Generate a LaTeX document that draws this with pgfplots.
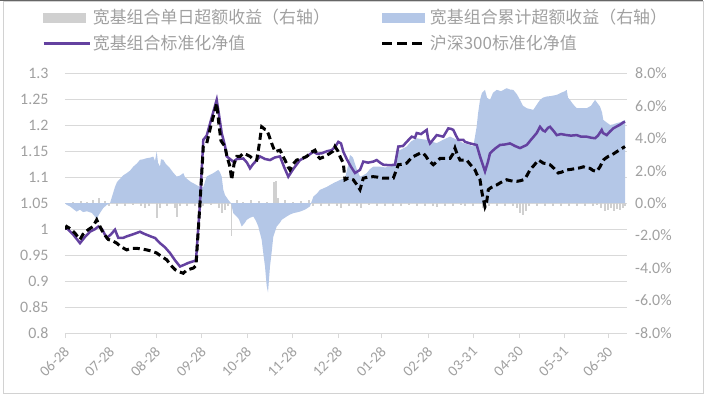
\documentclass[border=0pt]{standalone}
\usepackage{fontspec}
\setmainfont{Carlito}
\newfontfamily\cjk{Noto Sans CJK SC}
\usepackage{pgfplots}
\pgfplotsset{compat=1.18}
\definecolor{textgray}{RGB}{160,160,160}
\definecolor{gridgray}{RGB}{217,217,217}
\definecolor{bargray}{RGB}{208,208,208}
\definecolor{areablue}{RGB}{180,199,231}
\definecolor{navpurple}{RGB}{100,65,160}
\pgfplotsset{
  base/.style={scale only axis, width=561.7bp, height=259.7bp, xmin=0, xmax=561.7,
    tick label style={font=\fontsize{16}{18}\selectfont, text=textgray}},
}
\begin{document}
\begin{tikzpicture}
% Axis A: grid, left labels, x ticks
\begin{axis}[base, name=A,
  ymin=0.8, ymax=1.3,
  ytick={0.8,0.85,0.9,0.95,1,1.05,1.1,1.15,1.2,1.25,1.3},
  yticklabels={0.8,0.85,0.9,0.95,1,1.05,1.1,1.15,1.2,1.25,1.3},
  ymajorgrids, grid style={gridgray, line width=0.8bp},
  axis line style={draw=none},
  ytick style={draw=none}, ytick pos=left,
  xtick={0,45,91,136.7,182,227.7,273,316.7,363.3,408.3,454.3,499.3,543.3},
  xticklabels={06-28,07-28,08-28,09-28,10-28,11-28,12-28,01-28,02-28,03-31,04-30,05-31,06-30},
  xtick pos=left, xtick style={gridgray, line width=0.8bp},
  tick align=outside, major tick length=5bp,
  xticklabel style={font=\fontsize{15}{17}\selectfont, inner sep=1bp, xshift=-2bp, yshift=-6bp, rotate=45, anchor=north east},
  yticklabel style={xshift=-8bp},
]
\end{axis}
% Axis B: right axis, daily and cumulative excess
\begin{axis}[base,
  ymin=-8, ymax=8,
  ytick={-8,-6,-4,-2,0,2,4,6,8},
  yticklabels={-8.0\%,-6.0\%,-4.0\%,-2.0\%,0.0\%,2.0\%,4.0\%,6.0\%,8.0\%},
  ytick pos=right, ytick style={draw=none},
  xtick=\empty, axis line style={draw=none},
  yticklabel style={xshift=5bp},
]
\addplot[ycomb, bargray, line width=1.5bp, mark=none] coordinates {
(2,-0.05)(5,-0.15)(8,0.1)(10,-0.2)(13,-0.3)(16,0.15)(19,-0.2)(22,0.1)(25,-0.25)(28,0.2)(31,-0.4)(34,0.3)(37,-0.1)(40,0.15)(44,-0.2)(48,0.2)(52,-0.15)(56,0.1)(60,-0.2)(64,0.15)(68,-0.1)(72,0.2)(76,-0.15)(80,-0.3)(84,-0.2)(88,0.3)(92,-0.9)(95,-0.3)(98,0.2)(102,-0.2)(106,0.15)(110,-0.3)(112,-0.85)(115,-0.2)(118,0.1)(122,-0.2)(126,0.2)(130,-0.15)(134,0.3)(138,-0.2)(142,0.2)(146,-0.1)(150,0.15)(154,-0.3)(157,-0.6)(160,-0.45)(163,-0.2)(166.7,-2.0)(169,-0.3)(172,0.2)(175,-0.2)(178,0.1)(182,-0.3)(186,0.2)(190,-0.1)(194,0.15)(198,-0.2)(202,0.1)(206,-0.15)(209,1.3)(211,1.35)(213,0.3)(216,-0.1)(220,0.2)(224,-0.15)(228,0.1)(232,-0.2)(236,0.15)(240,-0.1)(244,0.2)(248,-0.15)(252,0.1)(256,-0.2)(260,0.1)(264,-0.15)(268,0.1)(272,-0.2)(276,-0.3)(280,0.2)(284,-0.15)(288,0.1)(292,-0.2)(296,-0.3)(300,0.1)(304,-0.1)(308,0.15)(312,-0.2)(316,0.1)(320,-0.15)(324,0.1)(328,-0.2)(332,0.2)(336,-0.15)(340,0.1)(344,-0.1)(348,0.15)(352,-0.2)(356,0.1)(360,-0.15)(364,0.1)(368,-0.2)(372,-0.25)(376,0.1)(380,-0.15)(384,0.1)(388,-0.2)(392,0.1)(396,-0.1)(400,-0.2)(404,0.1)(408,-0.15)(412,0.5)(415,0.4)(418,-0.3)(421,0.2)(424,-0.15)(428,0.1)(432,-0.2)(436,0.1)(440,-0.15)(444,0.1)(448,-0.2)(452,-0.3)(455,-0.6)(458,-0.7)(461,-0.5)(464,-0.2)(468,0.1)(472,-0.15)(476,0.1)(480,-0.2)(484,0.1)(488,-0.15)(492,0.1)(496,-0.2)(500,0.1)(504,-0.15)(508,0.1)(512,-0.2)(516,0.1)(520,-0.15)(524,0.1)(528,-0.2)(532,-0.1)(536,-0.3)(540,-0.5)(543,-0.4)(546,-0.3)(549,-0.5)(552,-0.35)(555,-0.4)(558,-0.3)(560,-0.2)
};
\addplot[draw=none, fill=areablue] coordinates {
(0,0)(1.7,-0.1)(5,-0.2)(8,-0.35)(11.7,-0.52)(15,-0.4)(18,-0.55)(22,-0.5)(26.7,-0.6)(29,-0.75)(31.7,-1.0)(34,-0.7)(38.3,-0.3)(42,-0.1)(45,0.0)(47,0.4)(50,1.0)(52,1.3)(55,1.5)(58,1.7)(61.7,1.85)(65,2.0)(68.3,2.25)(72,2.45)(75,2.67)(78,2.7)(81.7,2.77)(85,2.8)(88.3,2.87)(90,2.6)(91.7,3.18)(93,2.5)(95,2.25)(96,2.7)(98.3,2.67)(101,2.4)(105,2.15)(108,1.9)(111.7,1.64)(115,1.7)(118.3,1.85)(120,1.6)(123.3,1.43)(126,1.3)(128.3,1.23)(132,1.1)(135,1.0)(138.3,1.0)(141.7,1.64)(145,1.75)(148.3,1.85)(153.3,2.05)(155,1.9)(156.7,1.64)(158.3,0.82)(160,0.5)(163.3,0.2)(166,0.0)(168.3,-0.62)(171.7,-0.82)(174,-1.0)(176.7,-1.44)(180,-1.2)(181.7,-1.03)(185,-0.9)(188.3,-0.82)(191,-1.1)(193.3,-1.44)(196.7,-2.27)(198.5,-3.2)(200,-3.9)(201.7,-5.1)(203,-5.5)(205,-3.9)(206.7,-3.0)(208.3,-2.06)(211.7,-1.44)(215,-1.2)(216.7,-1.03)(221.7,-0.82)(225,-0.7)(228.3,-0.62)(235,-0.52)(240,-0.4)(245,-0.2)(248.3,0.4)(252,0.6)(255,0.82)(261.7,1.0)(268.3,1.23)(275,1.43)(280,1.54)(283,2.3)(285,2.98)(288,2.8)(291.7,2.1)(295,1.64)(298,1.7)(301.7,1.85)(305,2.1)(308.3,2.25)(315,2.25)(320,2.2)(325,2.25)(328.3,2.3)(331.7,3.18)(336,3.3)(341.7,3.49)(346,3.8)(351.7,4.0)(356,3.95)(361.7,3.9)(366,3.8)(371.7,3.7)(378,3.9)(385,4.1)(392,3.9)(398.3,3.7)(404,3.6)(408.3,3.49)(411.7,4.72)(413,5.5)(415,6.36)(417,6.8)(420,6.98)(422,6.5)(425,6.36)(428,6.8)(431.7,6.98)(436,6.9)(441.7,7.08)(445,7.0)(448.3,6.98)(452,6.7)(455,6.36)(458,6.0)(461.7,5.85)(465,5.8)(468.3,5.75)(471,6.0)(475,6.36)(478,6.5)(481.7,6.57)(486,6.6)(491.7,6.67)(496,6.8)(500,6.9)(501.7,6.98)(503,6.5)(505,6.36)(508,6.1)(511.7,5.85)(516,5.85)(521.7,5.85)(526,6.0)(530,6.36)(532,6.2)(535,5.95)(537,5.6)(538.3,5.13)(541,5.0)(545,4.82)(548,4.85)(551.7,4.93)(556,5.0)(560,5.13)(560,0)
} \closedcycle;
\end{axis}
% Axis C: NAV lines and legend
\begin{axis}[base, hide axis,
  ymin=0.8, ymax=1.3,
  legend columns=2,
  legend cell align=left,
  legend style={draw=none, fill=none, at={(axis description cs:-0.046,1.262)}, anchor=north west,
    font=\cjk\fontsize{17}{20}\selectfont, text=textgray,
    nodes={inner sep=2bp},
    /tikz/every even column/.append style={column sep=49bp},
    row sep=6bp},
]
\addlegendimage{legend image code/.code={\fill[bargray] (0bp,-4.5bp) rectangle (42bp,4.5bp);}}
\addlegendentry{宽基组合单日超额收益（右轴）}
\addlegendimage{legend image code/.code={\fill[areablue] (0bp,-4.5bp) rectangle (42bp,4.5bp);}}
\addlegendentry{宽基组合累计超额收益（右轴）}
\addplot[navpurple, line width=2.5bp, mark=none,
  legend image code/.code={\draw[navpurple, line width=2.5bp] (0bp,0bp) -- (46bp,0bp);}] coordinates {
(0,1.0)(1.7,1.002)(8,0.99)(15,0.973)(20,0.985)(25,0.995)(30,1.0)(33.3,1.005)(37,1.0)(41.7,0.983)(46,0.99)(50,0.999)(53.3,0.983)(58,0.983)(61.7,0.986)(68,0.99)(75,0.995)(78,0.992)(81.7,0.989)(87,0.985)(90,0.983)(95,0.973)(100,0.965)(105,0.954)(110,0.94)(115,0.928)(120,0.932)(123.3,0.935)(128.3,0.938)(131,0.94)(135,1.05)(138.3,1.172)(141.7,1.18)(146,1.21)(151.7,1.249)(154,1.22)(156.7,1.185)(160,1.16)(161.7,1.14)(165,1.135)(168.3,1.13)(172,1.135)(178.3,1.136)(182,1.128)(185,1.117)(188,1.125)(195,1.14)(200,1.135)(205,1.133)(210,1.138)(215,1.14)(219,1.12)(223.3,1.101)(228,1.115)(235,1.133)(242,1.14)(248.3,1.149)(252,1.145)(256.7,1.146)(262,1.15)(266.7,1.152)(270,1.158)(273.3,1.168)(276,1.165)(278.3,1.149)(281.7,1.135)(286,1.12)(290,1.108)(295,1.114)(298.3,1.13)(303,1.128)(308.3,1.13)(311.7,1.133)(315,1.128)(318.3,1.124)(325,1.123)(330,1.124)(333.3,1.159)(338,1.16)(341.7,1.168)(346.7,1.178)(350,1.176)(351.7,1.185)(356,1.183)(361.7,1.191)(363,1.175)(365,1.165)(368,1.172)(371.7,1.181)(374,1.18)(378.3,1.178)(383.3,1.194)(386,1.193)(388.3,1.191)(391,1.18)(393.3,1.172)(398.3,1.172)(400,1.168)(405,1.165)(411.7,1.162)(415,1.14)(420,1.111)(423,1.13)(425,1.146)(430,1.155)(435,1.162)(440,1.163)(445,1.165)(450,1.16)(455,1.156)(461.7,1.162)(466,1.172)(471.7,1.185)(475,1.197)(478,1.19)(480,1.188)(483,1.195)(485,1.197)(489,1.188)(491.7,1.181)(496,1.183)(501.7,1.181)(506,1.18)(511.7,1.181)(516,1.178)(521.7,1.178)(526,1.176)(530,1.175)(533,1.18)(536.7,1.191)(538,1.185)(541.7,1.181)(545,1.188)(548.3,1.194)(552,1.198)(555,1.201)(558,1.205)(560,1.207)
};
\addlegendentry{宽基组合标准化净值}
\addplot[black, line width=3bp, dash pattern=on 7bp off 4bp, mark=none,
  legend image code/.code={\draw[black, line width=3bp, dash pattern=on 10bp off 5bp] (0bp,0bp) -- (44bp,0bp);}] coordinates {
(0,1.0)(1.7,1.005)(6,1.0)(10,0.992)(15,0.98)(18,0.99)(23.3,0.999)(28,1.005)(31.7,1.018)(35,1.005)(38.3,0.992)(43.3,0.98)(47,0.978)(51.7,0.973)(56,0.966)(61.7,0.96)(66,0.963)(71.7,0.963)(76,0.962)(81.7,0.96)(86,0.958)(91.7,0.954)(96,0.948)(101.7,0.941)(106,0.93)(110,0.922)(114,0.918)(118.3,0.915)(121,0.92)(123.3,0.922)(128.3,0.925)(131,0.93)(135,1.05)(138.3,1.159)(141.7,1.165)(146,1.2)(151.7,1.242)(154,1.2)(156,1.17)(160,1.159)(162,1.14)(165,1.12)(166.7,1.095)(169,1.125)(171.7,1.14)(175,1.14)(178.3,1.146)(182,1.143)(185,1.14)(188,1.135)(191.7,1.133)(194,1.16)(196.7,1.197)(200,1.192)(201.7,1.191)(204,1.18)(206.7,1.165)(210,1.149)(215,1.152)(218,1.14)(220,1.133)(223,1.12)(225,1.114)(228,1.125)(231.7,1.133)(236,1.135)(241.7,1.14)(246,1.148)(250,1.152)(253,1.14)(255,1.136)(260,1.14)(265,1.146)(268,1.15)(270,1.159)(273,1.15)(275,1.14)(278.3,1.127)(280,1.095)(283,1.098)(288.3,1.095)(292,1.085)(295,1.076)(298.3,1.098)(303,1.1)(308.3,1.101)(313,1.1)(318.3,1.098)(323,1.098)(328.3,1.098)(333.3,1.124)(338,1.125)(341.7,1.127)(346.7,1.138)(351.7,1.143)(355,1.146)(358.3,1.146)(361,1.14)(363.3,1.133)(368.3,1.124)(372,1.13)(375,1.136)(380,1.136)(385,1.136)(388,1.145)(390,1.156)(392,1.145)(395,1.133)(398,1.133)(401.7,1.133)(405,1.125)(410,1.114)(412,1.105)(415,1.095)(417,1.07)(420,1.043)(421.5,1.05)(423.3,1.076)(426,1.08)(431.7,1.085)(436,1.09)(441.7,1.095)(446,1.093)(451.7,1.092)(455,1.093)(458.3,1.095)(461,1.1)(465,1.114)(470,1.125)(473.3,1.133)(476,1.13)(478.3,1.127)(482,1.126)(485,1.124)(489,1.117)(493.3,1.108)(497,1.11)(501.7,1.114)(506,1.115)(511.7,1.117)(515,1.118)(518.3,1.12)(521,1.118)(525,1.117)(528,1.113)(531.7,1.111)(535,1.12)(538.3,1.133)(541,1.137)(543.3,1.14)(547,1.143)(551.7,1.149)(555,1.153)(560,1.159)
};
\addlegendentry{沪深300标准化净值}
\end{axis}
\pgfresetboundingbox
\path[use as bounding box] ([shift={(-65bp,-63bp)}]A.south west) rectangle ([shift={(646bp,333bp)}]A.south west);
\draw[gray!35, line width=0.8bp] ([shift={(-62bp,-60bp)}]A.south west) rectangle ([shift={(638bp,332bp)}]A.south west);
\draw[gray!80!black, line width=1.5bp] ([shift={(-65bp,332.5bp)}]A.south west) -- ([shift={(638bp,332.5bp)}]A.south west);
\end{tikzpicture}
\end{document}
